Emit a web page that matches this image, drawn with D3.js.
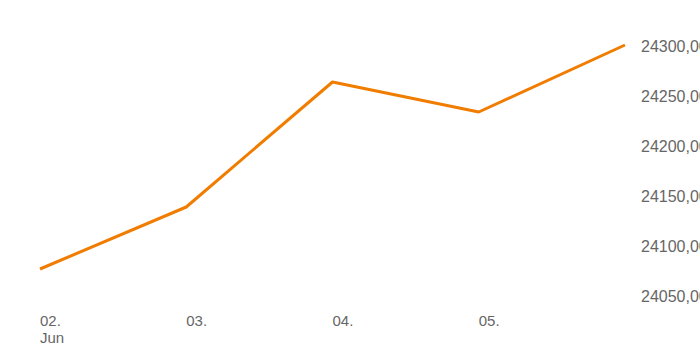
<!DOCTYPE html>
<html>
<head>
<meta charset="utf-8">
<script src="https://cdn.jsdelivr.net/npm/d3@7"></script>
<style>
  html, body { margin: 0; padding: 0; background: #fff; }
  svg { display: block; }
  .axis text { font-family: "Liberation Sans", Arial, sans-serif; font-size: 16px; fill: #666; }
  .axis.x text { font-size: 15px; }
</style>
</head>
<body>
<svg id="chart" width="700" height="350"></svg>
<script>
// Daily closing values
const dates = ["2024-06-02", "2024-06-03", "2024-06-04", "2024-06-05", "2024-06-06"];
const values = [24077, 24139, 24264, 24234, 24301];
const yTicks = [24050, 24100, 24150, 24200, 24250, 24300];
const xTicks = ["2024-06-02", "2024-06-03", "2024-06-04", "2024-06-05"];

const parse = d3.utcParse("%Y-%m-%d");
const data = dates.map((d, i) => ({ date: parse(d), value: values[i] }));

const svg = d3.select("#chart");

const x = d3.scaleUtc()
  .domain([parse(dates[0]), parse(dates[dates.length - 1])])
  .range([40, 625]);

const y = d3.scaleLinear()
  .domain([24050, 24300])
  .range([296, 46]);

// Right-hand value axis, labels only
const fmt = v => d3.format(".2f")(v).replace(".", ",");
const yAxis = svg.append("g")
  .attr("class", "axis y")
  .attr("transform", "translate(641,0)")
  .call(d3.axisRight(y).tickValues(yTicks).tickSize(0).tickPadding(0).tickFormat(fmt));
yAxis.select(".domain").remove();
yAxis.selectAll("text").attr("dy", "0.36em");

// Bottom date axis, labels left-aligned at each day
const xAxis = svg.append("g").attr("class", "axis x");
const tickG = xAxis.selectAll("g.tick")
  .data(xTicks.map(parse))
  .join("g")
  .attr("class", "tick")
  .attr("transform", d => `translate(${x(d)},0)`);
tickG.append("text")
  .attr("y", 326)
  .attr("text-anchor", "start")
  .text(d => d3.utcFormat("%d.")(d));
tickG.filter((d, i) => i === 0).append("text")
  .attr("y", 343)
  .attr("text-anchor", "start")
  .text(d => d3.utcFormat("%b")(d));

// Price line
const line = d3.line()
  .x(d => x(d.date))
  .y(d => y(d.value));

svg.append("path")
  .datum(data)
  .attr("fill", "none")
  .attr("stroke", "#f07c00")
  .attr("stroke-width", 3)
  .attr("stroke-linejoin", "round")
  .attr("d", line);
</script>
</body>
</html>
